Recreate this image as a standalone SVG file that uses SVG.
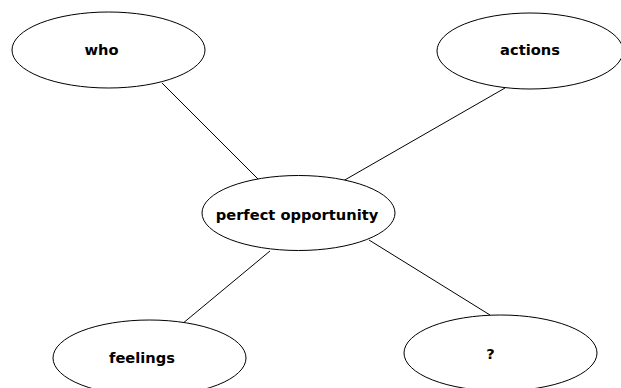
<svg xmlns="http://www.w3.org/2000/svg" width="621" height="388" viewBox="0 0 621 388">
<style>
.n ellipse{fill:#fff;stroke:#000;stroke-width:1}
.n text{font-family:"DejaVu Sans",sans-serif;font-weight:bold;font-size:14.67px;fill:#000;text-anchor:middle}
.c line{stroke:#000;stroke-width:1}
</style>
<rect width="621" height="388" fill="#fff"/>
<g class="c" id="connectors">
<line x1="162" y1="83" x2="260" y2="181"/>
<line x1="505" y1="88" x2="343" y2="181"/>
<line x1="270" y1="251" x2="182" y2="324"/>
<line x1="369" y1="240" x2="490" y2="315"/>
</g>
<g class="n" id="who"><ellipse cx="108.5" cy="50" rx="96.5" ry="38"/><text x="101.5" y="55">who</text></g>
<g class="n" id="actions"><ellipse cx="530" cy="51" rx="93" ry="38"/><text x="530" y="55">actions</text></g>
<g class="n" id="perfect"><ellipse cx="298.5" cy="213" rx="96.5" ry="37.5"/><text x="297" y="220">perfect opportunity</text></g>
<g class="n" id="feelings"><ellipse cx="149.5" cy="358" rx="96.5" ry="38"/><text x="142" y="363">feelings</text></g>
<g class="n" id="q"><ellipse cx="500.5" cy="353" rx="96.5" ry="38"/><text x="490.5" y="359">?</text></g>
</svg>
